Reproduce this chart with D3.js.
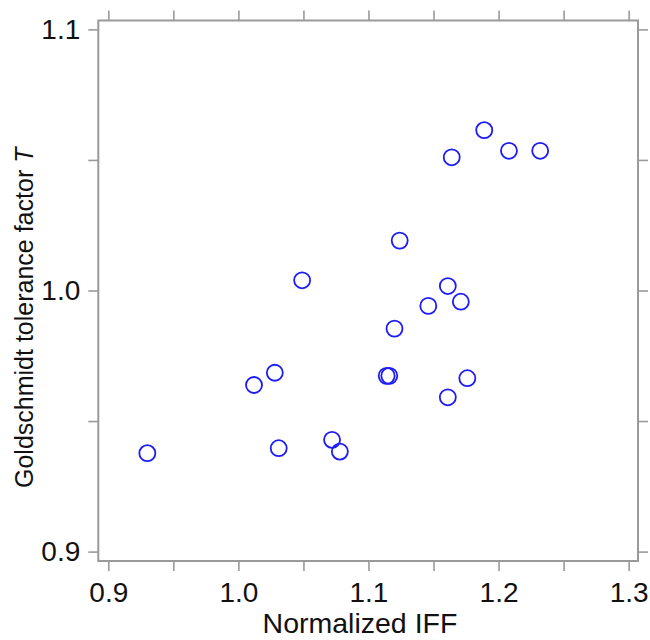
<!DOCTYPE html>
<html>
<head>
<meta charset="utf-8">
<script src="https://cdn.jsdelivr.net/npm/d3@7"></script>
<style>
  body { margin: 0; background: #fff; }
  svg { display: block; font-family: "Liberation Sans", Arial, sans-serif; }
</style>
</head>
<body>
<div id="chart"></div>
<script>
// data
const iff = [0.930, 1.012, 1.028, 1.031, 1.049, 1.072, 1.078, 1.114, 1.116, 1.120, 1.124,
             1.146, 1.161, 1.171, 1.161, 1.176, 1.164, 1.189, 1.208, 1.232];
const tFactor = [0.9377, 0.9638, 0.9685, 0.9396, 1.0039, 0.9428, 0.9383, 0.9673, 0.9673, 0.9854, 1.0191,
                 0.9941, 1.0017, 0.9957, 0.9591, 0.9664, 1.0510, 1.0614, 1.0535, 1.0535];

const xTicks = [0.9, 0.95, 1.0, 1.05, 1.1, 1.15, 1.2, 1.25, 1.3];
const xLabels = ["0.9", "", "1.0", "", "1.1", "", "1.2", "", "1.3"];
const yTicks = [0.9, 0.95, 1.0, 1.05, 1.1];
const yLabels = ["0.9", "", "1.0", "", "1.1"];

const W = 650, H = 640;
const m = { left: 98.3, right: 12, top: 20.5, bottom: 79 };

const svg = d3.select("#chart").append("svg")
  .attr("width", W).attr("height", H);

const x = d3.scaleLinear().domain([0.8923, 1.3072]).range([m.left, W - m.right]);
const y = d3.scaleLinear().domain([0.8964, 1.1034]).range([H - m.bottom, m.top]);

const grey = "#9a9a9a";

function styleAxis(g) {
  g.select(".domain").remove();
  g.selectAll(".tick line").attr("stroke", grey).attr("stroke-width", 1.6);
  g.selectAll(".tick text").attr("fill", "#111").attr("font-size", 28)
    .attr("font-family", "'Liberation Sans', Arial, sans-serif");
}

// bottom axis
svg.append("g")
  .attr("transform", `translate(0,${H - m.bottom})`)
  .call(d3.axisBottom(x).tickValues(xTicks).tickSize(10).tickPadding(11)
    .tickFormat((d, i) => xLabels[i]))
  .call(styleAxis);

// top axis (ticks only)
svg.append("g")
  .attr("transform", `translate(0,${m.top})`)
  .call(d3.axisTop(x).tickValues(xTicks).tickSize(10).tickFormat(""))
  .call(styleAxis);

// left axis
svg.append("g")
  .attr("transform", `translate(${m.left},0)`)
  .call(d3.axisLeft(y).tickValues(yTicks).tickSize(10).tickPadding(8)
    .tickFormat((d, i) => yLabels[i]))
  .call(styleAxis);

// right axis (ticks only)
svg.append("g")
  .attr("transform", `translate(${W - m.right},0)`)
  .call(d3.axisRight(y).tickValues(yTicks).tickSize(10).tickFormat(""))
  .call(styleAxis);

// frame
svg.append("rect")
  .attr("x", m.left).attr("y", m.top)
  .attr("width", W - m.right - m.left).attr("height", H - m.bottom - m.top)
  .attr("fill", "none").attr("stroke", grey).attr("stroke-width", 2);

// points
svg.append("g").selectAll("circle")
  .data(iff)
  .enter()
  .append("circle")
  .attr("cx", d => x(d))
  .attr("cy", (d, i) => y(tFactor[i]))
  .attr("r", 8)
  .attr("fill", "none")
  .attr("stroke", "#1c1cf5")
  .attr("stroke-width", 1.8);

// axis titles
svg.append("text")
  .attr("x", 360).attr("y", 633)
  .attr("text-anchor", "middle")
  .attr("font-size", 28.5)
  .attr("fill", "#111")
  .text("Normalized IFF");

const yt = svg.append("text")
  .attr("transform", "translate(33,488) rotate(-90)")
  .attr("text-anchor", "start")
  .attr("font-size", 25)
  .attr("fill", "#111");
yt.append("tspan").text("Goldschmidt tolerance factor ");
yt.append("tspan").attr("font-style", "italic").text("T");
</script>
</body>
</html>
